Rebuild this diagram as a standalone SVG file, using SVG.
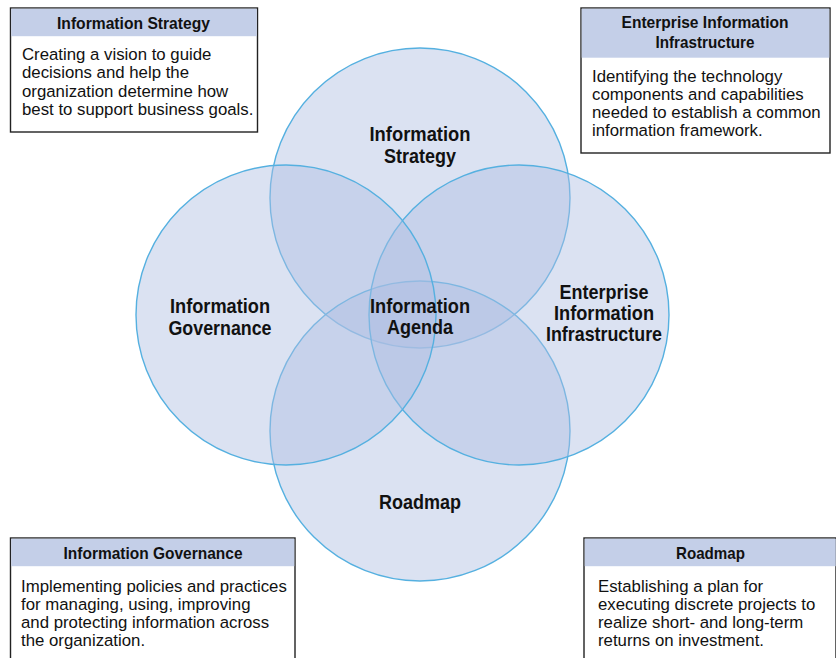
<svg xmlns="http://www.w3.org/2000/svg" width="836" height="658" viewBox="0 0 836 658">
<style>
.c{fill:rgb(175,190,226);fill-opacity:0.45;stroke:#55b0e0;stroke-width:1.4}
.lbl{font-family:"Liberation Sans Narrow","Liberation Sans",Arial,sans-serif;font-weight:bold;font-size:21px;fill:#111;text-anchor:middle}
.box{fill:#fff;stroke:#222;stroke-width:1.4}
.hdr{fill:#c4cfe8}
.ht{font-family:"Liberation Sans Narrow","Liberation Sans",Arial,sans-serif;font-weight:bold;font-size:17px;fill:#111;text-anchor:middle}
.bt{font-family:"Liberation Sans",Arial,sans-serif;font-size:16.8px;fill:#111}
</style>
<rect width="836" height="658" fill="#fff"/>
<g id="circles">
<g id="c-strategy"><circle class="c" cx="420" cy="198" r="150"/></g>
<g id="c-roadmap"><circle class="c" cx="420" cy="431" r="150"/></g>
<g id="c-infra"><circle class="c" cx="519" cy="315" r="150"/></g>
<g id="c-governance"><circle class="c" cx="286" cy="315" r="150"/></g>
</g>
<g id="circle-labels">
<text class="lbl"><tspan x="420" y="141" textLength="101" lengthAdjust="spacingAndGlyphs">Information</tspan><tspan x="420" y="163" textLength="72" lengthAdjust="spacingAndGlyphs">Strategy</tspan></text>
<text class="lbl"><tspan x="220" y="313" textLength="100" lengthAdjust="spacingAndGlyphs">Information</tspan><tspan x="220" y="335" textLength="103" lengthAdjust="spacingAndGlyphs">Governance</tspan></text>
<text class="lbl"><tspan x="420" y="313" textLength="100" lengthAdjust="spacingAndGlyphs">Information</tspan><tspan x="420" y="334" textLength="66" lengthAdjust="spacingAndGlyphs">Agenda</tspan></text>
<text class="lbl"><tspan x="604" y="299" textLength="89" lengthAdjust="spacingAndGlyphs">Enterprise</tspan><tspan x="604" y="320" textLength="100" lengthAdjust="spacingAndGlyphs">Information</tspan><tspan x="604" y="341" textLength="116" lengthAdjust="spacingAndGlyphs">Infrastructure</tspan></text>
<text class="lbl"><tspan x="420" y="509" textLength="82" lengthAdjust="spacingAndGlyphs">Roadmap</tspan></text>
</g>
<g id="box-strategy">
<rect class="box" x="10.5" y="8" width="247" height="124"/>
<rect class="hdr" x="11.2" y="8.7" width="245.6" height="27.5"/>
<text class="ht" x="133.5" y="29" textLength="153" lengthAdjust="spacingAndGlyphs">Information Strategy</text>
<text class="bt"><tspan x="22" y="60">Creating a vision to guide</tspan><tspan x="22" y="78.3">decisions and help the</tspan><tspan x="22" y="96.6">organization determine how</tspan><tspan x="22" y="115">best to support business goals.</tspan></text>
</g>
<g id="box-infra">
<rect class="box" x="581" y="8" width="249" height="145"/>
<rect class="hdr" x="581.7" y="8.7" width="247.6" height="49"/>
<text class="ht"><tspan x="705" y="28" textLength="167" lengthAdjust="spacingAndGlyphs">Enterprise Information</tspan><tspan x="705" y="48" textLength="99" lengthAdjust="spacingAndGlyphs">Infrastructure</tspan></text>
<text class="bt"><tspan x="592" y="82">Identifying the technology</tspan><tspan x="592" y="100">components and capabilities</tspan><tspan x="592" y="118">needed to establish a common</tspan><tspan x="592" y="136">information framework.</tspan></text>
</g>
<g id="box-governance">
<rect class="box" x="10.5" y="538" width="284.5" height="130"/>
<rect class="hdr" x="11.2" y="538.7" width="283.1" height="27.5"/>
<text class="ht" x="153" y="559" textLength="179" lengthAdjust="spacingAndGlyphs">Information Governance</text>
<text class="bt"><tspan x="21" y="592">Implementing policies and practices</tspan><tspan x="21" y="610">for managing, using, improving</tspan><tspan x="21" y="628">and protecting information across</tspan><tspan x="21" y="646">the organization.</tspan></text>
</g>
<g id="box-roadmap">
<rect class="box" x="584" y="538" width="252" height="130"/>
<rect class="hdr" x="584.7" y="538.7" width="251" height="27.5"/>
<text class="ht" x="710.5" y="559" textLength="69" lengthAdjust="spacingAndGlyphs">Roadmap</text>
<text class="bt"><tspan x="598" y="592">Establishing a plan for</tspan><tspan x="598" y="610">executing discrete projects to</tspan><tspan x="598" y="628">realize short- and long-term</tspan><tspan x="598" y="646">returns on investment.</tspan></text>
</g>
</svg>
